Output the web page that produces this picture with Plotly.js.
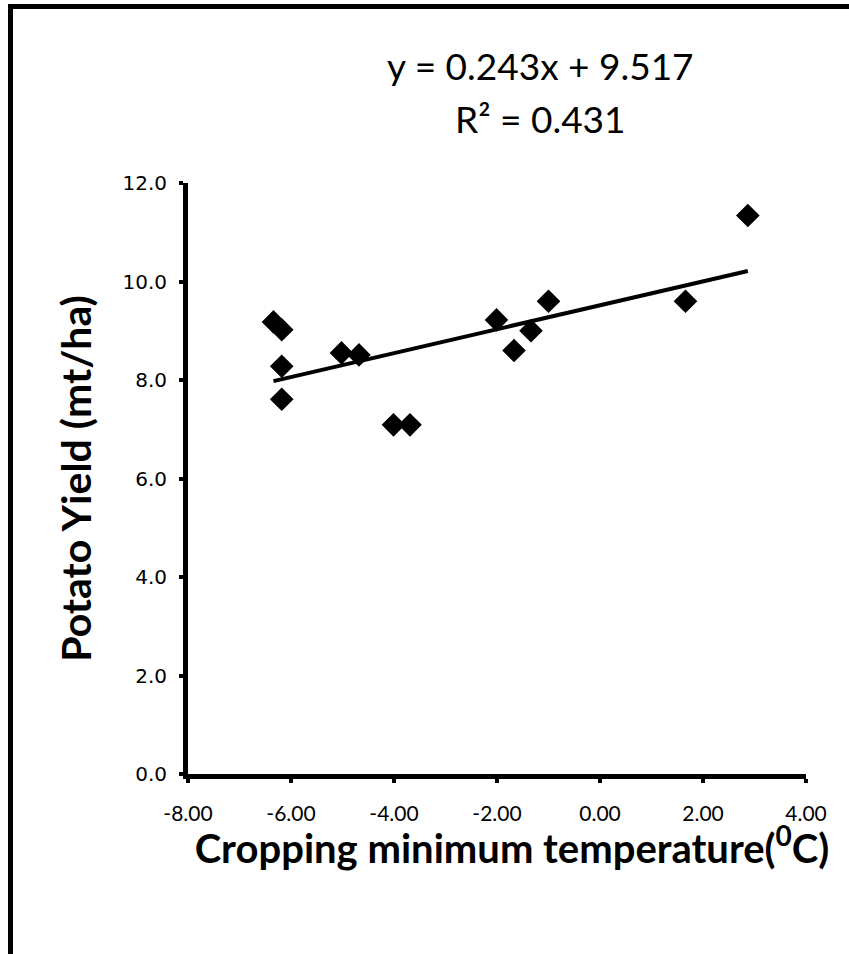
<!DOCTYPE html>
<html><head><meta charset="utf-8">
<script src="https://cdn.plot.ly/plotly-3.0.1.min.js"></script>
<style>
html,body{margin:0;padding:0;background:#fff;overflow:hidden;width:849px;height:954px}
#wrap{position:relative;width:849px;height:954px;overflow:hidden}
#frame{position:absolute;left:8px;top:4px;width:900px;height:1000px;border-left:5px solid #000;border-top:5px solid #000;pointer-events:none}
</style>
</head><body>
<div id="wrap"><div id="chart" style="width:849px;height:954px"></div><div id="frame"></div></div>
<script>
// Data
const temperature = [-6.34, -6.18, -6.18, -6.18, -5.02, -4.68, -4.01, -3.69, -2.01, -1.67, -1.34, -1.00, 1.66, 2.87];
const yieldMtHa   = [ 9.18,  9.02,  8.28,  7.61,  8.55,  8.51,  7.09,  7.09,  9.22,  8.60,  9.00,  9.60, 9.60, 11.34];
const trendSlope = 0.243;
const trendIntercept = 9.517;
const rSquared = 0.431;
const xTickVals = [-8, -6, -4, -2, 0, 2, 4];
const xTickText = ['-8.00', '-6.00', '-4.00', '-2.00', '0.00', '2.00', '4.00'];
const yTickVals = [0, 2, 4, 6, 8, 10, 12];
const yTickText = ['0.0', '2.0', '4.0', '6.0', '8.0', '10.0', '12.0'];
const xTitle = 'Cropping minimum temperature(<sup>0</sup>C)';
const yTitle = 'Potato Yield (mt/ha)';

const trendX = [Math.min(...temperature), Math.max(...temperature)];
const trendY = trendX.map(x => trendSlope * x + trendIntercept);

const traces = [
  {
    x: temperature, y: yieldMtHa, type: 'scatter', mode: 'markers',
    marker: {symbol: 'diamond', size: 16, color: '#000', line: {color: '#000', width: 2}},
    showlegend: false, hoverinfo: 'x+y'
  },
  {
    x: trendX, y: trendY, type: 'scatter', mode: 'lines',
    line: {color: '#000', width: 4}, showlegend: false, hoverinfo: 'skip'
  }
];

const layout = {
  width: 849, height: 954,
  margin: {l: 188, r: 43, t: 183, b: 180},
  paper_bgcolor: '#fff', plot_bgcolor: '#fff',
  showlegend: false,
  xaxis: {
    range: [-8, 4], tickmode: 'array', tickvals: xTickVals, ticktext: xTickText,
    showgrid: false, zeroline: false,
    showline: true, linewidth: 5, linecolor: '#000',
    ticks: 'outside', ticklen: 4, tickwidth: 4, tickcolor: '#000',
    ticklabelstandoff: 13,
    tickfont: {family: 'Lato, sans-serif', size: 21, color: '#000'},
    title: {text: xTitle, font: {family: 'Lato, sans-serif', size: 40, color: '#000', weight: 'bold'}, standoff: 5}
  },
  yaxis: {
    range: [0, 12], tickmode: 'array', tickvals: yTickVals, ticktext: yTickText,
    showgrid: false, zeroline: false,
    showline: true, linewidth: 5, linecolor: '#000',
    ticks: 'outside', ticklen: 4, tickwidth: 4, tickcolor: '#000',
    ticklabelstandoff: 8,
    tickfont: {family: '"DejaVu Sans", sans-serif', size: 20, color: '#000'},
    title: {text: yTitle, font: {family: 'Lato, sans-serif', size: 41, color: '#000', weight: 'bold'}, standoff: 20}
  },
  annotations: [
    {xref: 'paper', yref: 'paper', x: 0.5696, y: 1.199, xanchor: 'center', yanchor: 'middle',
     text: 'y = ' + trendSlope + 'x + ' + trendIntercept, showarrow: false,
     font: {family: 'Lato, sans-serif', size: 37, color: '#000'}},
    {xref: 'paper', yref: 'paper', x: 0.5696, y: 1.109, xanchor: 'center', yanchor: 'middle',
     text: 'R\u00B2 = ' + rSquared, showarrow: false,
     font: {family: 'Lato, sans-serif', size: 37, color: '#000'}}
  ]
};

Plotly.newPlot('chart', traces, layout, {displayModeBar: false, staticPlot: true}).then(function (gd) {
  // The reference places the x-axis title slightly right of the axis centre and a bit higher.
  var txt = gd.querySelector('.g-xtitle text');
  if (txt) {
    var x = parseFloat(txt.getAttribute('x'));
    var y = parseFloat(txt.getAttribute('y'));
    if (!isNaN(x)) txt.setAttribute('x', x + 15);
    if (!isNaN(y)) txt.setAttribute('y', y - 7);
  }
});
</script>
</body></html>
